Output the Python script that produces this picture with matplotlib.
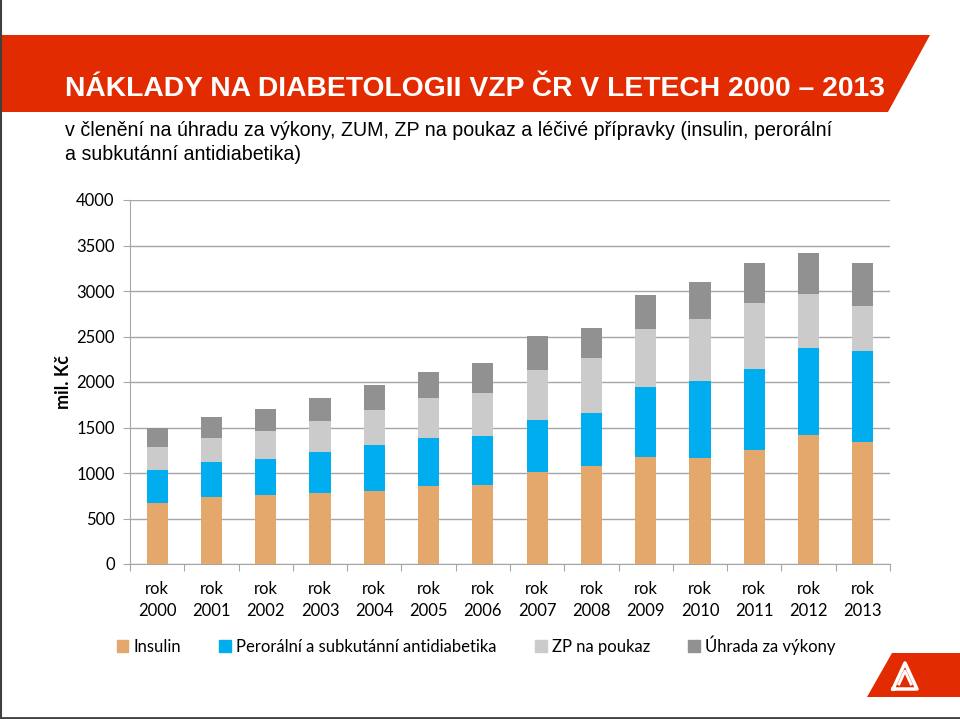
import matplotlib.pyplot as plt
import matplotlib.patches as mpatches
import numpy as np

years = ['2000', '2001', '2002', '2003', '2004', '2005', '2006',
         '2007', '2008', '2009', '2010', '2011', '2012', '2013']
insulin = [674, 740, 755, 777, 802, 857, 872, 1007, 1081, 1176, 1165, 1249, 1421, 1337]
peroral = [363, 381, 403, 450, 509, 528, 538, 572, 582, 765, 842, 898, 956, 1000]
zp_poukaz = [245, 267, 304, 348, 385, 443, 469, 553, 597, 641, 685, 721, 586, 502]
vykony = [213, 231, 245, 249, 267, 278, 330, 377, 337, 378, 411, 436, 458, 472]

series = [
    ('Insulin', insulin, '#E4A86C'),
    ('Perorální a subkutánní antidiabetika', peroral, '#00AEEF'),
    ('ZP na poukaz', zp_poukaz, '#CBCBCB'),
    ('Úhrada za výkony', vykony, '#919191'),
]

W, H = 960, 719
fig = plt.figure(figsize=(9.6, 7.19), dpi=100)

# background layer in pixel coordinates
bg = fig.add_axes([0, 0, 1, 1])
bg.set_xlim(0, W)
bg.set_ylim(H, 0)
bg.axis('off')

# red banner
bg.add_patch(mpatches.Polygon([(1, 35), (930, 35), (888, 112), (1, 112)],
                              closed=True, color='#E22B00', lw=0))
bg.text(65, 89, 'NÁKLADY NA DIABETOLOGII VZP ČR V LETECH 2000 – 2013',
        color='white', fontsize=20.3, fontweight='bold',
        family=['Liberation Sans', 'DejaVu Sans'],
        va='center', ha='left')
bg.text(65, 131, 'v členění na úhradu za výkony, ZUM, ZP na poukaz a léčivé přípravky (insulin, perorální',
        color='black', fontsize=14.1, family=['Liberation Sans', 'DejaVu Sans'],
        va='center', ha='left')
bg.text(65, 154, 'a subkutánní antidiabetika)',
        color='black', fontsize=14.1, family=['Liberation Sans', 'DejaVu Sans'],
        va='center', ha='left')

# logo bottom right
bg.add_patch(mpatches.Polygon([(892, 653), (960, 653), (960, 697), (867, 697)],
                              closed=True, color='#E22B00', lw=0))
bg.plot([893, 905, 917, 893], [689, 663, 689, 689], color='white', lw=2.5)
bg.plot([899, 905, 911], [684, 671, 684], color='white', lw=2)

# frame lines
bg.plot([0.5, 0.5], [0, H], color='#404040', lw=1.5)
bg.plot([0, W], [H - 1.5, H - 1.5], color='#404040', lw=2)

# chart
ax = fig.add_axes([130 / W, (H - 564) / H, 760 / W, 364 / H])
x = np.arange(len(years))
bottom = np.zeros(len(years))
for name, vals, col in series:
    ax.bar(x, vals, width=0.39, bottom=bottom, color=col, label=name, zorder=3)
    bottom += np.array(vals)

ax.set_xlim(-0.5, len(years) - 0.5)
ax.set_ylim(0, 4000)
ax.set_yticks(np.arange(0, 4001, 500))
ax.yaxis.grid(True, color='#A6A6A6', lw=1, zorder=0)
for s in ['top', 'right']:
    ax.spines[s].set_visible(False)
for s in ['left', 'bottom']:
    ax.spines[s].set_color('#A6A6A6')
ax.tick_params(axis='y', colors='#A6A6A6', length=5, labelcolor='black',
               labelsize=12, pad=6)
ax.set_xticks(np.arange(-0.5, len(years)), minor=False)
ax.set_xticklabels([])
ax.set_xticks(x, minor=True)
ax.set_xticklabels(['rok\n' + y for y in years], minor=True)
ax.tick_params(axis='x', which='major', colors='#A6A6A6', length=5)
ax.tick_params(axis='x', which='minor', length=0, labelsize=12, pad=12)
for lab in ax.get_xticklabels(minor=True):
    lab.set_linespacing(1.45)
for lab in ax.get_xticklabels(minor=True) + ax.get_yticklabels():
    lab.set_family(['Lato', 'DejaVu Sans'])
ax.set_ylabel('mil. Kč', fontsize=13, fontweight='bold',
              family=['Lato', 'DejaVu Sans'])
ax.yaxis.set_label_coords(-0.076, 0.5)

handles = [mpatches.Patch(color=c) for _, _, c in series]
fig.legend(handles, [n for n, _, _ in series], loc='center',
           bbox_to_anchor=(476 / W, 1 - 645 / H), ncol=4, frameon=False,
           prop={'family': ['Lato', 'DejaVu Sans'], 'size': 12},
           handlelength=0.7, handleheight=0.7, handletextpad=0.3,
           columnspacing=2.3)

fig.savefig('out.png', dpi=100)
